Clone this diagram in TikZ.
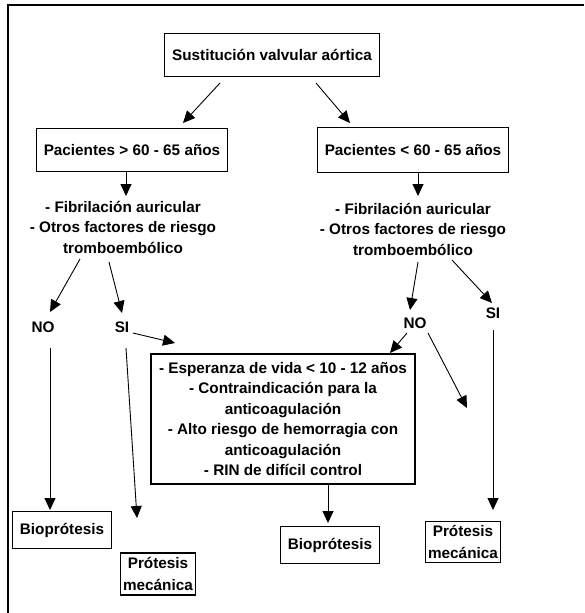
\documentclass[tikz,border=0pt]{standalone}
\usepackage{fontspec}
\setmainfont{Liberation Sans}
\usetikzlibrary{arrows.meta,positioning}

\begin{document}
\begin{tikzpicture}[x=1pt,y=-1pt,->,>={Triangle[length=12pt,width=11pt]},
                    line width=0.9pt,
                    font=\bfseries\fontsize{15.3}{20.5}\selectfont]
  \tikzstyle{box}=[draw,-,line width=1.2pt,align=center,inner xsep=7.5pt,inner ysep=2pt]
  \tikzstyle{txt}=[align=center,inner sep=0pt]

  \useasboundingbox (0,0) rectangle (584,613);
  \draw[-,line width=1.5pt] (8,613) -- (8,5) -- (584,5);

  \node[box,minimum height=43pt]  (sva)  at (272,55)  {Sustitución valvular aórtica};
  \node[box,minimum height=43pt]  (pm)   at (132,150) {Pacientes > 60 - 65 años};
  \node[box,minimum height=45pt]  (pn)   at (413,150) {Pacientes < 60 - 65 años};
  \node[txt] (fl)   at (123,227) {- Fibrilación auricular\\- Otros factores de riesgo\\tromboembólico};
  \node[txt] (fr)   at (413,229) {- Fibrilación auricular\\- Otros factores de riesgo\\tromboembólico};
  \node[txt] (no1)  at (43,327)  {NO};
  \node[txt] (si1)  at (122,327) {SI};
  \node[txt] (no2)  at (415,323) {NO};
  \node[txt] (si2)  at (493,313) {SI};
  \node[box,minimum width=264pt,minimum height=130pt] (crit) at (283,419)
    {- Esperanza de vida < 10 - 12 años\\- Contraindicación para la\\anticoagulación\\
     - Alto riesgo de hemorragia con\\anticoagulación\\- RIN de difícil control};
  \node[box,minimum height=37pt]  (bio1) at (62,530)  {Bioprótesis};
  \node[box,minimum height=42pt,inner xsep=3pt,font=\bfseries\fontsize{15.3}{22}\selectfont]
    (mec1) at (158,574) {Prótesis\\mecánica};
  \node[box,minimum height=37pt]  (bio2) at (330,545) {Bioprótesis};
  \node[box,minimum height=41pt,inner xsep=3pt,font=\bfseries\fontsize{15.3}{22}\selectfont]
    (mec2) at (463,542) {Prótesis\\mecánica};
  \coordinate (nx) at (467,408);

  \draw ([shift={(-52,28)}]sva.center) -- ([shift={(51,-27)}]pm.center);
  \draw ([shift={(44,28)}]sva.center)  -- ([shift={(-63,-27)}]pn.center);
  \draw ([shift={(-6,22)}]pm.center)   -- ([shift={(3,-31)}]fl.center);
  \draw ([shift={(5,22)}]pn.center)    -- ([shift={(5,-33)}]fr.center);
  \draw ([shift={(-43,32)}]fl.center)  -- ([shift={(7,-15)}]no1.center);
  \draw ([shift={(-14,35)}]fl.center)  -- ([shift={(0,-14)}]si1.center);
  \draw ([shift={(11,6)}]si1.center)   -- ([shift={(-108,-76)}]crit.center);
  \draw ([shift={(7,21)}]no1.center)   -- ([shift={(-12,-20)}]bio1.center);
  \draw ([shift={(4,21)}]si1.center)   -- ([shift={(-21,-56)}]mec1.center);
  \draw ([shift={(45,65)}]crit.center) -- ([shift={(-2,-22)}]bio2.center);
  \draw ([shift={(5,33)}]fr.center)    -- ([shift={(-5,-13)}]no2.center);
  \draw ([shift={(39,31)}]fr.center)   -- ([shift={(-1,-10)}]si2.center);
  \draw ([shift={(-8,10)}]no2.center)  -- ([shift={(107,-66)}]crit.center);
  \draw ([shift={(13,10)}]no2.center)  -- (nx);
  \draw ([shift={(0,17)}]si2.center)   -- ([shift={(30,-32)}]mec2.center);
\end{tikzpicture}
\end{document}
